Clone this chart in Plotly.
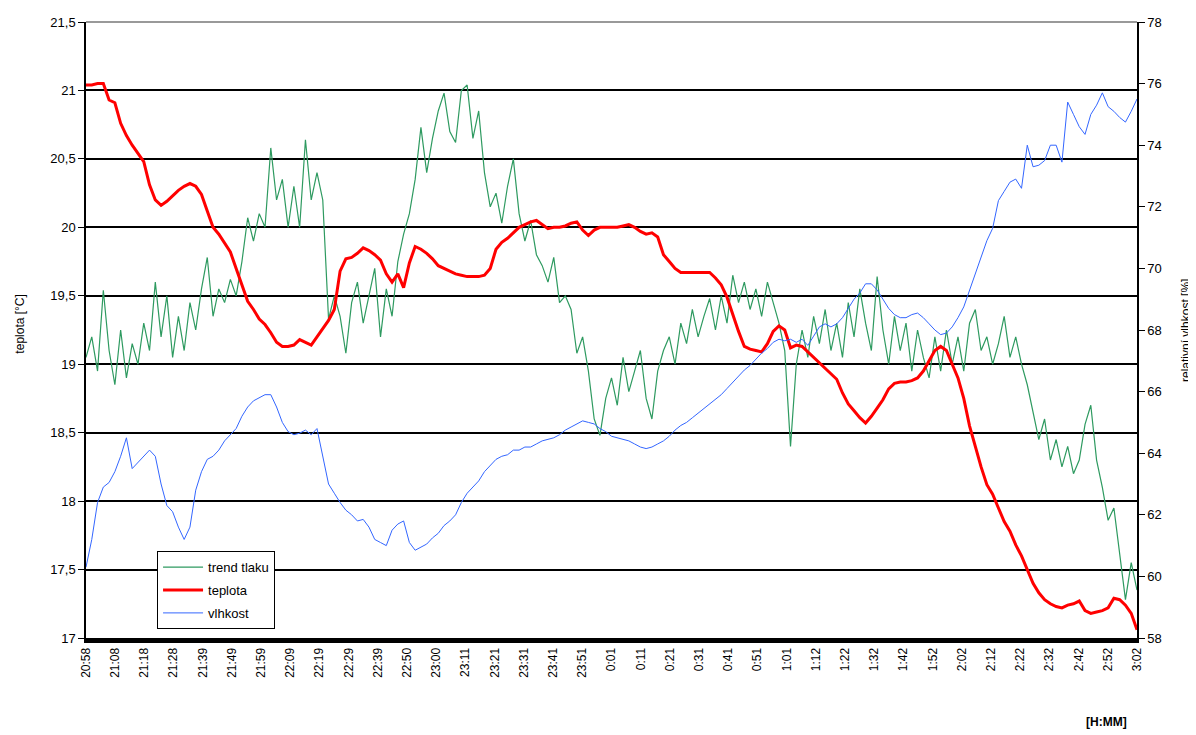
import numpy as np
import plotly.graph_objects as go

# time grid: minutes after 20:58, every 2 minutes (20:58 .. 3:02)
minutes = np.arange(0, 365, 2)

tick_labels = ["20:58", "21:08", "21:18", "21:28", "21:39", "21:49", "21:59", "22:09", "22:19",
               "22:29", "22:39", "22:50", "23:00", "23:11", "23:21", "23:31", "23:41", "23:51",
               "0:01", "0:11", "0:21", "0:31", "0:41", "0:51", "1:01", "1:12", "1:22", "1:32",
               "1:42", "1:52", "2:02", "2:12", "2:22", "2:32", "2:42", "2:52", "3:02"]

teplota = [21.04, 21.04, 21.05, 21.05, 20.93, 20.91, 20.76, 20.67, 20.60, 20.54,
           20.48, 20.31, 20.20, 20.16, 20.19, 20.23, 20.27, 20.30, 20.32, 20.30,
           20.24, 20.12, 20.00, 19.95, 19.88, 19.82, 19.70, 19.58, 19.46, 19.40,
           19.33, 19.29, 19.23, 19.16, 19.13, 19.13, 19.14, 19.18, 19.16, 19.14,
           19.20, 19.26, 19.32, 19.40, 19.68, 19.77, 19.78, 19.81, 19.85, 19.83,
           19.80, 19.76, 19.66, 19.60, 19.66, 19.56, 19.74, 19.86, 19.84, 19.81,
           19.77, 19.72, 19.70, 19.68, 19.66, 19.65, 19.64, 19.64, 19.64, 19.65,
           19.70, 19.84, 19.89, 19.92, 19.96, 20.00, 20.02, 20.04, 20.05, 20.02,
           19.99, 20.00, 20.00, 20.01, 20.03, 20.04, 19.98, 19.94, 19.98, 20.00,
           20.00, 20.00, 20.00, 20.01, 20.02, 20.00, 19.97, 19.95, 19.96, 19.93,
           19.80, 19.75, 19.70, 19.67, 19.67, 19.67, 19.67, 19.67, 19.67, 19.63,
           19.58, 19.49, 19.36, 19.24, 19.13, 19.11, 19.10, 19.09, 19.15, 19.24,
           19.28, 19.25, 19.12, 19.14, 19.13, 19.09, 19.05, 19.01, 18.97, 18.93,
           18.89, 18.79, 18.71, 18.66, 18.61, 18.57, 18.62, 18.68, 18.74, 18.82,
           18.86, 18.87, 18.87, 18.88, 18.90, 18.95, 19.03, 19.10, 19.13, 19.10,
           19.00, 18.90, 18.75, 18.55, 18.40, 18.25, 18.12, 18.05, 17.95, 17.85,
           17.78, 17.68, 17.60, 17.50, 17.40, 17.33, 17.28, 17.25, 17.23, 17.22,
           17.24, 17.25, 17.27, 17.20, 17.18, 17.19, 17.20, 17.22, 17.29, 17.28,
           17.24, 17.18, 17.06]

vlhkost = [60.3, 61.2, 62.4, 62.9, 63.05, 63.4, 63.9, 64.5, 63.5, 63.7,
           63.9, 64.1, 63.9, 63.0, 62.3, 62.1, 61.6, 61.2, 61.6, 62.8,
           63.4, 63.8, 63.9, 64.1, 64.4, 64.6, 64.8, 65.2, 65.5, 65.7,
           65.8, 65.9, 65.9, 65.5, 65.0, 64.7, 64.6, 64.65, 64.75, 64.6,
           64.8, 63.9, 63.0, 62.7, 62.4, 62.15, 62.0, 61.8, 61.85, 61.6,
           61.2, 61.1, 61.0, 61.5, 61.7, 61.8, 61.1, 60.85, 60.95, 61.05,
           61.25, 61.4, 61.65, 61.8, 62.0, 62.4, 62.7, 62.9, 63.1, 63.4,
           63.6, 63.8, 63.9, 63.95, 64.1, 64.1, 64.2, 64.2, 64.3, 64.4,
           64.45, 64.5, 64.6, 64.75, 64.85, 64.95, 65.05, 65.0, 64.95, 64.8,
           64.7, 64.55, 64.5, 64.45, 64.4, 64.3, 64.2, 64.15, 64.2, 64.3,
           64.4, 64.55, 64.75, 64.9, 65.0, 65.15, 65.3, 65.45, 65.6, 65.75,
           65.9, 66.1, 66.3, 66.5, 66.7, 66.85, 67.05, 67.25, 67.4, 67.6,
           67.7, 67.65, 67.7, 67.6, 67.7, 67.5, 67.8, 68.1, 68.2, 68.1,
           68.2, 68.4, 68.7, 69.0, 69.2, 69.5, 69.5, 69.3, 69.0, 68.7,
           68.5, 68.4, 68.4, 68.5, 68.55, 68.4, 68.2, 68.0, 67.85, 67.9,
           68.1, 68.4, 68.75, 69.3, 69.8, 70.4, 70.9, 71.3, 72.2, 72.5,
           72.8, 72.9, 72.6, 74.0, 73.3, 73.35, 73.5, 74.0, 74.0, 73.45,
           75.4, 75.0, 74.6, 74.35, 75.0, 75.3, 75.7, 75.25, 75.1, 74.9,
           74.75, 75.1, 75.5]

trend_tlaku = [19.05, 19.20, 18.95, 19.54, 19.10, 18.85, 19.25, 18.90, 19.15, 19.00,
               19.30, 19.10, 19.60, 19.20, 19.50, 19.05, 19.35, 19.10, 19.45, 19.25,
               19.55, 19.78, 19.35, 19.55, 19.45, 19.62, 19.50, 19.75, 20.07, 19.90,
               20.10, 20.00, 20.58, 20.20, 20.35, 20.00, 20.30, 20.00, 20.64, 20.20,
               20.40, 20.20, 19.33, 19.50, 19.35, 19.08, 19.45, 19.60, 19.30, 19.50,
               19.70, 19.20, 19.55, 19.35, 19.75, 19.95, 20.10, 20.35, 20.73, 20.40,
               20.65, 20.85, 20.98, 20.70, 20.62, 21.00, 21.04, 20.65, 20.85, 20.40,
               20.15, 20.25, 20.03, 20.30, 20.50, 20.10, 19.90, 20.05, 19.80, 19.72,
               19.60, 19.78, 19.45, 19.50, 19.40, 19.08, 19.20, 18.95, 18.60, 18.48,
               18.75, 18.90, 18.70, 19.05, 18.80, 18.95, 19.10, 18.75, 18.60, 18.95,
               19.10, 19.20, 19.00, 19.30, 19.15, 19.40, 19.20, 19.35, 19.48, 19.25,
               19.50, 19.30, 19.65, 19.45, 19.60, 19.40, 19.55, 19.35, 19.60, 19.45,
               19.30, 19.10, 18.40, 19.00, 19.25, 19.05, 19.35, 19.15, 19.40, 19.10,
               19.30, 19.05, 19.45, 19.20, 19.55, 19.30, 19.10, 19.64, 19.25, 19.00,
               19.35, 19.10, 19.30, 18.95, 19.25, 19.05, 18.90, 19.20, 18.95, 19.25,
               19.00, 19.20, 18.95, 19.30, 19.40, 19.10, 19.20, 19.00, 19.15, 19.35,
               19.05, 19.20, 19.00, 18.85, 18.65, 18.45, 18.60, 18.30, 18.45, 18.25,
               18.40, 18.20, 18.30, 18.56, 18.70, 18.30, 18.10, 17.86, 17.95, 17.62,
               17.28, 17.55, 17.35]

left_ticks = [17, 17.5, 18, 18.5, 19, 19.5, 20, 20.5, 21, 21.5]
left_text = ["17", "17,5", "18", "18,5", "19", "19,5", "20", "20,5", "21", "21,5"]
right_ticks = [58, 60, 62, 64, 66, 68, 70, 72, 74, 76, 78]

FONT = "Arial, Liberation Sans, sans-serif"
span = 364.0
tickvals = [i * span / (len(tick_labels) - 1) for i in range(len(tick_labels))]

fig = go.Figure()
fig.add_trace(go.Scatter(x=minutes, y=trend_tlaku, name="trend tlaku", mode="lines",
                         legendgroup="a",
                         line=dict(color="#2e9a60", width=1.2), yaxis="y"))
fig.add_trace(go.Scatter(x=minutes, y=teplota, name="teplota", mode="lines",
                         legendgroup="b",
                         line=dict(color="#ff0000", width=3), yaxis="y"))
fig.add_trace(go.Scatter(x=minutes, y=vlhkost, name="vlhkost", mode="lines",
                         legendgroup="c",
                         line=dict(color="#3366ff", width=1), yaxis="y2"))

# the page body has an 8px margin, so the figure is 8px smaller than the window
fig.update_layout(
    width=1188, height=727,
    margin=dict(l=78, r=59, t=14, b=97, autoexpand=False),
    paper_bgcolor="white", plot_bgcolor="white",
    font=dict(family=FONT, size=13, color="black"),
    showlegend=True,
    legend=dict(x=0.0676, y=0.141, xanchor="left", yanchor="top",
                bgcolor="white", bordercolor="black", borderwidth=1,
                font=dict(size=13), traceorder="grouped", tracegroupgap=3,
                itemwidth=40),
    xaxis=dict(range=[0, span], tickvals=tickvals, ticktext=tick_labels, tickangle=-90,
               showgrid=False, zeroline=False, showline=True, linecolor="black", linewidth=5,
               ticks="", tickfont=dict(size=12), automargin=False),
    yaxis=dict(range=[17, 21.5], tickvals=left_ticks, ticktext=left_text,
               showgrid=True, gridcolor="black", gridwidth=1.5, zeroline=False,
               showline=True, linecolor="black", linewidth=1.5,
               ticks="outside", ticklen=6, tickcolor="black", automargin=False),
    yaxis2=dict(range=[58, 78], tickvals=right_ticks, overlaying="y", side="right",
                showgrid=False, zeroline=False, showline=True, linecolor="black", linewidth=1.5,
                ticks="outside", ticklen=6, tickcolor="black", automargin=False),
)

# grey top border of the plot area
fig.add_shape(type="line", xref="paper", yref="paper", x0=0, x1=1, y0=1, y1=1,
              line=dict(color="#999999", width=2))

# axis titles
fig.add_annotation(text="teplota [°C]", xref="paper", yref="paper",
                   x=-0.063, y=0.51, textangle=-90, showarrow=False,
                   xanchor="center", yanchor="middle", font=dict(size=12))
fig.add_annotation(text="relativní vlhkost [%]", xref="paper", yref="paper",
                   x=1.0466, y=0.50, textangle=-90, showarrow=False,
                   xanchor="center", yanchor="middle", font=dict(size=12))
fig.add_annotation(text="<b>[H:MM]</b>", xref="paper", yref="paper", x=0.971, y=-0.136,
                   xanchor="center", yanchor="middle", showarrow=False, font=dict(size=12))

fig.write_html("out.html")
